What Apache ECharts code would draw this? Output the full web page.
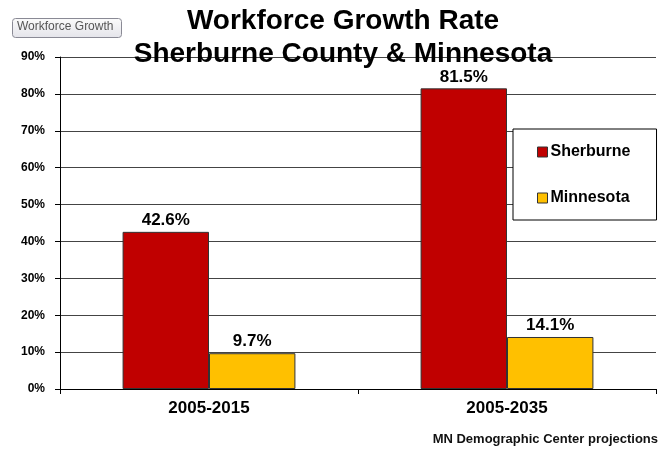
<!DOCTYPE html>
<html><head><meta charset="utf-8">
<script src="https://cdn.jsdelivr.net/npm/echarts@6/dist/echarts.min.js"></script>
<style>html,body{margin:0;padding:0;background:#fff}#c{width:669px;height:452px}</style>
</head><body><div id="c"></div>
<script>
const categories = ['2005-2015', '2005-2035'];
const sherburne = [42.6, 81.5];
const minnesota = [9.7, 14.1];
const yTicks = [0, 10, 20, 30, 40, 50, 60, 70, 80, 90];

const FF = 'Arial, Liberation Sans';
const chart = echarts.init(document.getElementById('c'));
const lbl = {show: true, position: 'top', formatter: p => p.value.toFixed(1) + '%', fontFamily: FF, fontWeight: 'bold', fontSize: 17, color: '#000', distance: 3};
chart.setOption({
  animation: false,
  textStyle: {fontFamily: FF},
  title: {
    text: 'Workforce Growth Rate\nSherburne County & Minnesota',
    left: 338, textAlign: 'center', top: 0,
    textStyle: {fontFamily: FF, fontWeight: 'bold', fontSize: 28, lineHeight: 33, color: '#000'}
  },
  legend: {
    orient: 'vertical', left: 513, top: 129,
    padding: [15, 26, 14, 24], itemGap: 30, itemWidth: 10, itemHeight: 10,
    borderColor: '#000', borderWidth: 1, backgroundColor: '#fff',
    icon: 'rect',
    textStyle: {fontWeight: 'bold', fontSize: 16, color: '#000', fontFamily: FF, padding: [0, 0, 0, -2]},
    data: [{name: 'Sherburne', itemStyle: {borderColor: '#333', borderWidth: 1}}, {name: 'Minnesota', itemStyle: {borderColor: '#333', borderWidth: 1}}]
  },
  grid: {left: 60, right: 13, top: 57, bottom: 63},
  xAxis: {
    type: 'category', data: categories,
    axisLine: {lineStyle: {color: '#000', width: 1}},
    axisTick: {show: true, length: 5, lineStyle: {color: '#000'}},
    axisLabel: {fontWeight: 'bold', fontSize: 17, color: '#000', margin: 11}
  },
  yAxis: {
    type: 'value', min: yTicks[0], max: yTicks[yTicks.length - 1], interval: 10,
    axisLine: {show: true, lineStyle: {color: '#000', width: 1}},
    axisTick: {show: true, length: 5, lineStyle: {color: '#000'}},
    axisLabel: {formatter: v => v + '%', fontWeight: 'bold', fontSize: 12, color: '#000', margin: 15},
    splitLine: {show: true, lineStyle: {color: '#444', width: 1}}
  },
  series: [
    {name: 'Sherburne', type: 'bar', data: sherburne, barGap: '0%', barCategoryGap: '42%',
     itemStyle: {color: '#c00000', borderColor: '#333', borderWidth: 1}, label: lbl},
    {name: 'Minnesota', type: 'bar', data: minnesota,
     itemStyle: {color: '#ffc000', borderColor: '#333', borderWidth: 1}, label: lbl}
  ],
  graphic: [
    {type: 'rect', shape: {x: 12.5, y: 18.5, width: 109, height: 19, r: 3},
     style: {fill: new echarts.graphic.LinearGradient(0, 0, 0, 1, [{offset: 0, color: '#fbfbfb'}, {offset: 1, color: '#e4e4ea'}]), stroke: '#8a8a95', lineWidth: 1}},
    {type: 'text', left: 17, top: 21, style: {text: 'Workforce Growth', fontSize: 12, fill: '#555', fontFamily: FF}},
    {type: 'text', right: 11, top: 433, style: {text: 'MN Demographic Center projections', fontSize: 13, fontWeight: 'bold', fill: '#111', fontFamily: FF}}
  ]
});
</script></body></html>
